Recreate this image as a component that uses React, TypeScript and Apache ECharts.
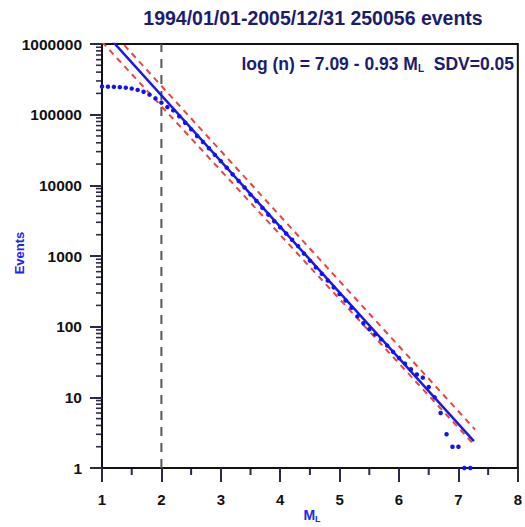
import React, { useEffect, useRef } from "react";
import * as echarts from "echarts";

const magnitudes = [
  1.0, 1.1, 1.2, 1.3, 1.4, 1.5, 1.6, 1.7, 1.8, 1.9,
  2.0, 2.1, 2.2, 2.3, 2.4, 2.5, 2.6, 2.7, 2.8, 2.9,
  3.0, 3.1, 3.2, 3.3, 3.4, 3.5, 3.6, 3.7, 3.8, 3.9,
  4.0, 4.1, 4.2, 4.3, 4.4, 4.5, 4.6, 4.7, 4.8, 4.9,
  5.0, 5.1, 5.2, 5.3, 5.4, 5.5, 5.6, 5.7, 5.8, 5.9,
  6.0, 6.1, 6.2, 6.3, 6.4, 6.5, 6.6, 6.7, 6.8, 6.9,
  7.0, 7.1, 7.2,
];
const eventCounts = [
  250056, 249000, 247500, 245000, 241000, 234000, 224000, 211000, 192000, 170000,
  148000, 128000, 115000, 95000, 77000, 62000, 50000, 41000, 33500, 27000,
  22000, 17800, 14300, 11500, 9300, 7400, 6000, 4800, 3850, 3100,
  2550, 2080, 1700, 1380, 1080, 860, 690, 560, 450, 360,
  290, 235, 185, 140, 112, 92, 78, 66, 54, 44,
  36, 30, 25, 21, 19, 14, 10, 6, 3, 2,
  2, 1, 1,
];
const fitLine = [[1.0, 1600000], [7.26, 2.4]];
const upperBand = [[1.0, 2130000], [7.28, 3.5]];
const lowerBand = [[1.0, 1070000], [7.25, 2.2]];
const cutoffLine = [[2, 1], [2, 1000000]];
const xMinorTicks = [1.5, 2.5, 3.5, 4.5, 5.5, 6.5, 7.5];
const yMinorTicks: number[] = [];
for (let d = 0; d < 6; d++) {
  for (let k = 2; k <= 9; k++) yMinorTicks.push(k * Math.pow(10, d));
}

const titleText = "1994/01/01-2005/12/31 250056 events";
const tickColor = "#2a2a48";

export default function App() {
  const ref = useRef<HTMLDivElement>(null);
  useEffect(() => {
    if (!ref.current) return;
    const chart = echarts.init(ref.current, null, { renderer: "svg" });
    const font = "'Liberation Sans', Arial, sans-serif";
    const points = magnitudes.map((m, i) => [m, eventCounts[i]]);
    chart.setOption({
      animation: false,
      backgroundColor: "#fff",
      grid: { left: 102, top: 44, right: 4, bottom: 59 },
      xAxis: {
        type: "value",
        min: 1,
        max: 8,
        interval: 1,
        axisLine: { show: true, onZero: false, lineStyle: { color: "#111", width: 2 } },
        axisTick: { show: true, length: 14, lineStyle: { color: tickColor, width: 2 } },
        splitLine: { show: false },
        axisLabel: {
          margin: 24,
          color: "#111",
          fontFamily: "Liberation Sans",
          fontWeight: "bold",
          fontSize: 15,
        },
      },
      yAxis: {
        type: "log",
        logBase: 10,
        min: 1,
        max: 1000000,
        axisLine: { show: true, onZero: false, lineStyle: { color: "#111", width: 2 } },
        axisTick: { show: true, length: 12, lineStyle: { color: tickColor, width: 2 } },
        splitLine: { show: false },
        axisLabel: {
          margin: 20,
          color: "#111",
          fontFamily: "Liberation Sans",
          fontWeight: "bold",
          fontSize: 15.5,
          formatter: (v: number) => String(Math.round(v)),
        },
      },
      series: [
        {
          type: "line",
          data: cutoffLine,
          symbol: "none",
          lineStyle: { color: "#555", width: 2, type: [9, 7] },
          z: 2,
        },
        {
          type: "line",
          data: upperBand,
          symbol: "none",
          clip: true,
          lineStyle: { color: "#e8463c", width: 2, type: [6, 5] },
          z: 3,
        },
        {
          type: "line",
          data: lowerBand,
          symbol: "none",
          clip: true,
          lineStyle: { color: "#e8463c", width: 2, type: [6, 5] },
          z: 3,
        },
        {
          type: "line",
          data: fitLine,
          symbol: "none",
          clip: true,
          lineStyle: { color: "#1a1ae0", width: 2.5 },
          z: 4,
        },
        {
          type: "scatter",
          data: points,
          symbol: "circle",
          symbolSize: 4.5,
          clip: false,
          itemStyle: { color: "#1212f5", opacity: 1 },
          z: 5,
        },
      ],
    });

    const px = (x: number, y: number) =>
      chart.convertToPixel({ gridIndex: 0 }, [x, y]) as number[];
    const tickEls: any[] = [];
    xMinorTicks.forEach((v) => {
      const p = px(v, 1);
      tickEls.push({
        type: "rect",
        shape: { x: p[0] - 1, y: p[1], width: 2, height: 7 },
        style: { fill: tickColor },
      });
    });
    yMinorTicks.forEach((v) => {
      const p = px(1, v);
      tickEls.push({
        type: "rect",
        shape: { x: p[0] - 6, y: p[1] - 0.8, width: 6, height: 1.6 },
        style: { fill: tickColor },
      });
    });

    const tl = px(1, 1000000);
    const br = px(8, 1);

    chart.setOption({
      graphic: [
        ...tickEls,
        {
          type: "rect",
          shape: { x: tl[0], y: tl[1], width: br[0] - tl[0], height: br[1] - tl[1] },
          style: { fill: "none", stroke: "#111", lineWidth: 2 },
        },
        {
          type: "text",
          x: 313,
          y: 18,
          style: {
            text: titleText,
            align: "center",
            verticalAlign: "middle",
            font: `bold 19.5px ${font}`,
            fill: "#1c1c6e",
          },
        },
        {
          type: "text",
          x: 514,
          y: 64,
          style: {
            text: "log (n) = 7.09 - 0.93 M{sub|L}  SDV=0.05",
            align: "right",
            verticalAlign: "middle",
            font: `bold 17.5px ${font}`,
            fill: "#1c1c6e",
            rich: {
              sub: { font: `bold 10px ${font}`, fill: "#1c1c6e", padding: [9, 0, 0, 0] },
            },
          },
          z: 10,
        },
        {
          type: "text",
          x: 312,
          y: 515,
          style: {
            text: "M{sub|L}",
            align: "center",
            verticalAlign: "middle",
            font: `bold 14px ${font}`,
            fill: "#2323f0",
            rich: {
              sub: { font: `bold 9px ${font}`, fill: "#2323f0", padding: [7, 0, 0, 0] },
            },
          },
        },
        {
          type: "text",
          x: 19,
          y: 253,
          rotation: Math.PI / 2,
          style: {
            text: "Events",
            align: "center",
            verticalAlign: "middle",
            font: `bold 13px ${font}`,
            fill: "#2323f0",
          },
        },
      ],
    });
    return () => chart.dispose();
  }, []);
  return (
    <div
      ref={ref}
      style={{ position: "fixed", left: 0, top: 0, width: 525, height: 527 }}
    />
  );
}
